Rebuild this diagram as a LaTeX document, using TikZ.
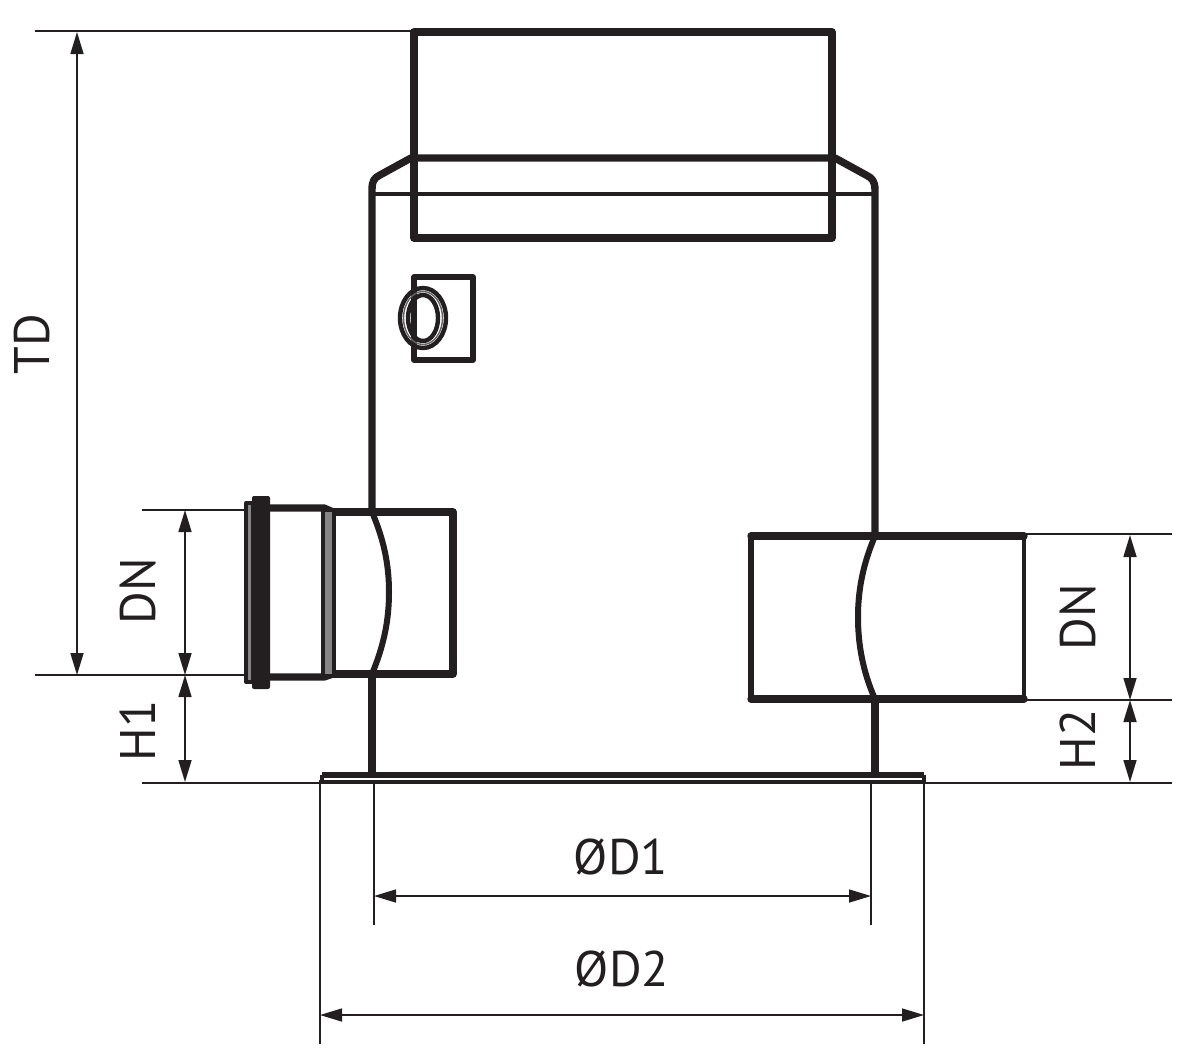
\documentclass[tikz,border=0pt]{standalone}
\usepackage{fontspec}
\setmainfont{PT Sans}
\usetikzlibrary{arrows.meta}
\definecolor{ink}{HTML}{231F20}
\tikzset{
  x=0.5pt,y=-0.5pt,
  thin line/.style={draw=ink,line width=0.8pt},
  dim line/.style={draw=ink,line width=0.8pt,{Stealth[length=11pt,width=6.5pt,inset=0pt]}-{Stealth[length=11pt,width=6.5pt,inset=0pt]}},
  heavy/.style={draw=ink,line width=3.7pt,line join=round,line cap=round},
  medium/.style={draw=ink,line width=2.8pt,line join=round},
  label/.style={text=ink,font=\fontsize{25}{25}\selectfont,inner sep=0pt},
  vlabel/.style={label,rotate=90},
}
\begin{document}
\begin{tikzpicture}
\useasboundingbox (0,0) rectangle (1200,1057);
% coordinates for dimension ends
\coordinate (tdT) at (77,32); \coordinate (tdB) at (77,675);
\coordinate (dnlT) at (185,510); \coordinate (dnlB) at (185,675); \coordinate (h1B) at (185,782);
\coordinate (dnrT) at (1130,535); \coordinate (dnrB) at (1130,700); \coordinate (h2B) at (1130,782);
\coordinate (d1L) at (374,896); \coordinate (d1R) at (871,896);
\coordinate (d2L) at (320,1015); \coordinate (d2R) at (924,1015);
% extension lines
\draw[thin line] (35,31) -- (414,31);
\draw[thin line] (35,675) -- (247,675);
\draw[thin line] (142,510) -- (247,510);
\draw[thin line] (142,783) -- (1172,783);
\draw[thin line] (1024,534) -- (1172,534);
\draw[thin line] (1024,700) -- (1172,700);
\draw[thin line] (320,780) -- (320,1044);
\draw[thin line] (924,780) -- (924,1044);
\draw[thin line] (374,780) -- (374,925);
\draw[thin line] (871,780) -- (871,925);
% dimension lines
\draw[dim line] (tdT) -- (tdB);
\draw[dim line] (dnlT) -- (dnlB);
\draw[dim line] (dnlB) -- (h1B);
\draw[dim line] (dnrT) -- (dnrB);
\draw[dim line] (dnrB) -- (h2B);
\draw[dim line] (d1L) -- (d1R);
\draw[dim line] (d2L) -- (d2R);
% top pipe
\draw[heavy] (414,32) rectangle (832,238);
% shoulder and walls
\draw[heavy,line cap=butt] (372,512) -- (372,190) .. controls (372,181) and (374,178) .. (380,175) -- (411,158) -- (835,158) -- (866,175) .. controls (872,178) and (875,181) .. (875,190) -- (875,536);
\draw[medium,line width=2.2pt] (372,194) -- (875,194);
\draw[heavy,line cap=butt] (372,673) -- (372,775);
\draw[heavy,line cap=butt] (875,699) -- (875,775);
% small box and ring
\draw[medium] (414,277) rectangle (473,360);
\draw[draw=ink,line width=2.2pt] (423,318) ellipse [x radius=23,y radius=30];
\draw[draw=ink!70,line width=0.7pt] (423,318) ellipse [x radius=19.5,y radius=26.5];
\draw[draw=ink,line width=2.2pt] (423,318) ellipse [x radius=15,y radius=23];
% left pipe
\draw[heavy] (333,512) -- (453,512) -- (453,674) -- (333,674);
\draw[draw=ink,line width=3pt,line cap=round] (372,512) .. controls (384,540) and (389,565) .. (389,592) .. controls (389,620) and (384,645) .. (372,674);
% left socket
\draw[heavy] (268,508) -- (324,508) -- (333,512);
\draw[heavy] (268,677) -- (324,677) -- (333,674);
\fill[ink!55] (247,505) rectangle (253,680);
\fill[ink,rounded corners=1pt] (252,496) rectangle (270,689);
\draw[draw=ink,line width=2pt,line join=round] (246,503) rectangle (253,682);
\fill[ink!55] (325,512) rectangle (332,674);
\draw[draw=ink,line width=1.8pt] (323,510) -- (323,675);
\draw[draw=ink,line width=2pt] (334,512) -- (334,674);
% right pipe
\draw[heavy] (751,536) -- (1024,536);
\draw[heavy] (751,699) -- (1024,699);
\draw[draw=ink,line width=3pt,line join=round] (751,536) -- (751,699);
\draw[draw=ink,line width=2.4pt] (1024,536) -- (1024,699);
\draw[draw=ink,line width=3pt,line cap=round] (875,536) .. controls (863,564) and (858,590) .. (858,617) .. controls (858,645) and (863,672) .. (875,699);
% base plate
\draw[draw=ink,line width=3.2pt,line join=round] (322,775) -- (924,775);
\draw[draw=ink,line width=1.8pt] (322,775) -- (322,782) -- (924,782) -- (924,775);
% labels
\node[vlabel] (td) at (32,344) {TD};
\node[vlabel] (dnl) at (138,591) {DN};
\node[vlabel] (h1) at (138,731) {H1};
\node[vlabel] (dnr) at (1078,617) {DN};
\node[vlabel] (h2) at (1078,740) {H2};
\node[label] (d1) at (621,857) {ØD1};
\node[label] (d2) at (622,969) {ØD2};
\end{tikzpicture}
\end{document}
